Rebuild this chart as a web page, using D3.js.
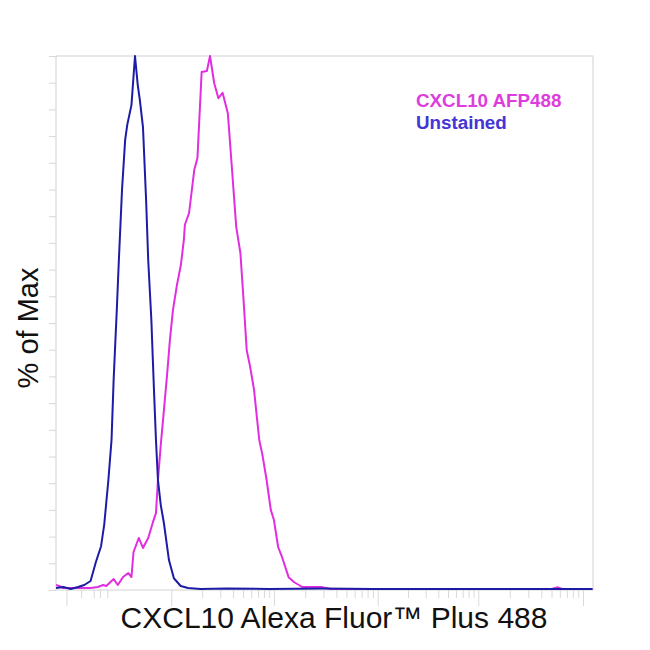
<!DOCTYPE html>
<html>
<head>
<meta charset="utf-8">
<script src="https://cdn.jsdelivr.net/npm/d3@7"></script>
<style>
  html, body { margin: 0; padding: 0; background: #fff; }
  svg { display: block; }
</style>
</head>
<body>
<svg id="chart" width="650" height="650"></svg>
<script>
// ---- data (x in log-decade units of fluorescence, y in % of max) ----
const seriesNames = ["CXCL10 AFP488", "Unstained"];

const unstainedX = [-1.03,-0.96,-0.89,-0.82,-0.76,-0.70,-0.65,-0.60,-0.57,-0.53,-0.50,-0.48,-0.45,-0.43,-0.40,-0.37,-0.35,-0.31,-0.276,-0.25,-0.23,-0.20,-0.17,-0.15,-0.12,-0.095,-0.076,-0.057,-0.03,0,0.048,0.095,0.16,0.23,0.35,0.6,1.0,1.5,2.0,2.5,3.0,3.5,4.09];
const unstainedY = [0.37,0.56,0.19,0.56,0.94,1.69,5.2,8.2,12.2,20.6,28.1,39.3,52.4,61.8,74.9,84.3,87.1,90.8,100,94.6,91.8,86.7,73.0,61.8,50.6,37.5,28.1,20.6,15.9,12.5,5.6,2.2,0.75,0.37,0.19,0.3,0.2,0.3,0.2,0.2,0.2,0.2,0.2];

const stainedX = [-1.03,-1.0,-0.96,-0.79,-0.70,-0.63,-0.58,-0.55,-0.52,-0.48,-0.44,-0.39,-0.34,-0.31,-0.29,-0.24,-0.20,-0.15,-0.105,-0.076,-0.057,-0.03,0,0.03,0.057,0.086,0.124,0.162,0.19,0.2,0.24,0.29,0.32,0.36,0.41,0.44,0.48,0.52,0.56,0.61,0.65,0.69,0.73,0.76,0.79,0.82,0.86,0.89,0.91,0.94,0.98,1.02,1.05,1.09,1.13,1.19,1.24,1.32,1.40,1.50,1.59,2.0,3.0,3.7,3.76,3.8,4.09];
const stainedY = [0.94,0.75,0.37,0.37,0.37,0.56,0.94,0.75,1.31,2.06,0.94,2.43,3.18,2.43,7.12,9.74,7.87,9.74,12.7,14.4,20.6,27.2,33.7,40.3,46.8,52.4,57.1,60.9,65.5,68.4,70.6,78.7,80.9,97.0,97.2,100,94.9,92.1,93.1,89.3,78.7,68.0,63.1,54.3,44.9,42.1,37.5,31.8,28.1,25.3,20.6,15.0,13.1,8.05,6.0,2.4,1.5,0.56,0.56,0.56,0.19,0.2,0.2,0.2,0.5,0.2,0.2];

// axis ticks (no labels shown)
const xMajorTicks = [-0.93, 0.07, 1.05, 2.04, 3.0, 4.0];
const xNegMinorTicks = [-0.79, -0.67, -0.61, -0.54];
const yTicks = [0,5,10,15,20,25,30,35,40,45,50,55,60,65,70,75,80,85,90,95,100];

const xLabel = "CXCL10 Alexa Fluor\u2122 Plus 488";
const yLabel = "% of Max";

// ---- layout ----
const svg = d3.select("#chart");
const L = 56, R = 593, T = 56, B = 590;
const x = d3.scaleLinear().domain([-1.03, 4.095]).range([L, R]);
const y = d3.scaleLinear().domain([0, 100]).range([B, T]);

const axisColor = "#d2d2d2";
const tickColor = "#d9d9d9";

// minor ticks in positive decades (log-spaced)
const xMinorTicks = xNegMinorTicks.slice();
for (let i = 1; i < xMajorTicks.length - 1; i++) {
  const a = xMajorTicks[i], b = xMajorTicks[i + 1];
  for (let k = 2; k <= 9; k++) xMinorTicks.push(a + Math.log10(k) * (b - a));
}

// y ticks
const yAxis = d3.axisLeft(y).tickValues(yTicks).tickSize(7).tickFormat("");
const gy = svg.append("g").attr("transform", `translate(${L},0)`).call(yAxis);
gy.select(".domain").remove();
gy.selectAll(".tick line").attr("stroke", tickColor).attr("stroke-width", 1);

// x minor ticks
const gxm = svg.append("g").attr("transform", `translate(0,${B})`)
  .call(d3.axisBottom(x).tickValues(xMinorTicks).tickSize(8).tickFormat(""));
gxm.select(".domain").remove();
gxm.selectAll(".tick line").attr("stroke", tickColor).attr("stroke-width", 1);
// x major ticks
const gxM = svg.append("g").attr("transform", `translate(0,${B})`)
  .call(d3.axisBottom(x).tickValues(xMajorTicks).tickSize(16).tickFormat(""));
gxM.select(".domain").remove();
gxM.selectAll(".tick line").attr("stroke", tickColor).attr("stroke-width", 1);

// frame
svg.append("rect")
  .attr("x", L).attr("y", T).attr("width", R - L).attr("height", B - T)
  .attr("fill", "none").attr("stroke", axisColor).attr("stroke-width", 1);

// clip
svg.append("clipPath").attr("id", "clip")
  .append("rect").attr("x", L).attr("y", T - 2).attr("width", R - L).attr("height", B - T + 2);

const line = d3.line().x(d => x(d[0])).y(d => y(d[1]));
const toPts = (xs, ys) => xs.map((v, i) => [v, ys[i]]);

svg.append("path")
  .datum(toPts(stainedX, stainedY))
  .attr("clip-path", "url(#clip)")
  .attr("fill", "none").attr("stroke", "#e02ee0").attr("stroke-width", 2)
  .attr("stroke-linejoin", "round")
  .attr("d", line);

svg.append("path")
  .datum(toPts(unstainedX, unstainedY))
  .attr("clip-path", "url(#clip)")
  .attr("fill", "none").attr("stroke", "#1c1ca6").attr("stroke-width", 2)
  .attr("stroke-linejoin", "round")
  .attr("d", line);

// legend
const legendColors = ["#dd3ddd", "#4535d6"];
svg.selectAll("text.legend").data(seriesNames).enter().append("text")
  .attr("class", "legend")
  .attr("x", 416).attr("y", (d, i) => 107 + i * 21.5)
  .attr("font-family", "Liberation Sans, Arial, sans-serif")
  .attr("font-weight", "bold").attr("font-size", 18.8)
  .attr("fill", (d, i) => legendColors[i])
  .text(d => d);

// axis titles
svg.append("text")
  .attr("x", 334).attr("y", 628)
  .attr("text-anchor", "middle")
  .attr("font-family", "Liberation Sans, Arial, sans-serif")
  .attr("font-size", 30).attr("fill", "#111")
  .text(xLabel);

svg.append("text")
  .attr("transform", "translate(38,328) rotate(-90)")
  .attr("text-anchor", "middle")
  .attr("font-family", "Liberation Sans, Arial, sans-serif")
  .attr("font-size", 29).attr("fill", "#111")
  .text(yLabel);
</script>
</body>
</html>
